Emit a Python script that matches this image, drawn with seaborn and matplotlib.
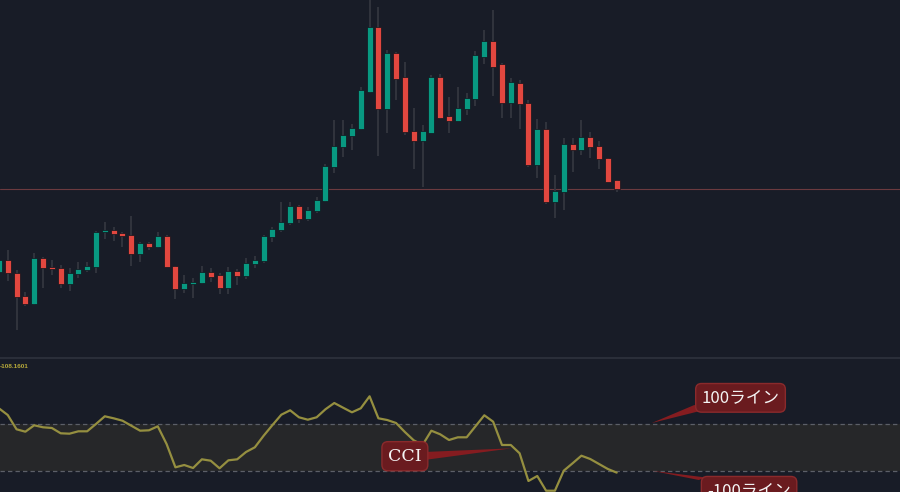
import numpy as np
import pandas as pd
import matplotlib
matplotlib.use("Agg")
import matplotlib.pyplot as plt
import seaborn as sns

# ---------------- data ----------------
opens = [128, 140, 127, 104.3, 96, 141.7, 133.3, 132.3, 115.7, 125.7,
         129.7, 133.3, 167.7, 170, 167.3, 165, 146, 156.7, 153.3, 164,
         134, 111, 116.3, 116.7, 128, 124.7, 111.7, 129.3, 124, 135.7,
         139.3, 162.7, 170, 176.7, 194, 181.3, 189, 199, 232.7, 252.7,
         264.3, 271.3, 308.3, 372.7, 291.3, 346.7, 322.7, 268.7, 259.3, 267.3,
         323.3, 283.7, 279.3, 291, 301, 343.3, 359, 335.7, 297.3, 317.3,
         296.7, 235, 271, 198.3, 208.3, 256, 250, 263.3, 254.3, 242, 219.7]
highs = [143, 150, 130, 108, 146.7, 143.3, 140, 135, 132.3, 138.3,
         137.7, 169, 178.3, 172.7, 168.3, 184, 158.3, 157.7, 168.3, 165,
         134, 124.7, 122.3, 134, 131.7, 126.7, 133.3, 131.3, 141.7, 144,
         165, 173.3, 198.3, 198.3, 195, 192.7, 203.3, 236, 280, 280,
         276, 312.7, 402, 393.3, 350, 347.7, 338.3, 292.3, 275, 324.7,
         326, 302.7, 312.7, 306.7, 349, 370, 390, 336.7, 321.7, 320,
         300, 281, 277.7, 225, 261.7, 261.7, 280, 268.3, 259.3, 242, 220]
lows = [126, 119, 70, 94, 95, 111.7, 125, 111.7, 109, 121.7,
        128.3, 126.7, 160.7, 159, 153.3, 134, 138.3, 150, 152, 133,
        100.7, 106.7, 101.7, 116, 117.7, 105.7, 105.7, 115, 120.7, 131.7,
        137.3, 158.3, 168.3, 175, 176.7, 179.3, 187.3, 198, 226.7, 243.3,
        250, 270, 307.3, 244.3, 266.7, 300, 265, 230.7, 212.7, 266.7,
        280.7, 266.7, 279.3, 285, 294, 336, 304.3, 281.7, 281.7, 271,
        233.3, 222.3, 196, 181.7, 190, 228.3, 245, 241.7, 230.7, 218, 208.3]
closes = [140, 127.3, 103.3, 96, 141.7, 132.3, 131.3, 115.7, 126.7, 131,
          134.3, 168.3, 170, 166, 164, 146, 156.7, 153, 164, 133.3,
          111, 117.3, 118.3, 128, 123.3, 111.7, 129.3, 124.3, 136.7, 140,
          164, 170.7, 178, 194, 181, 189.7, 200, 234.3, 254, 265,
          272.3, 309.7, 372.7, 291.3, 346.7, 321.3, 268.3, 259.3, 268.7, 323.3,
          282.3, 279.3, 292, 301.7, 345, 359, 333.3, 297.3, 318, 295.7,
          235, 271, 198.3, 209.3, 256, 250, 263.3, 253.3, 241, 218.3, 210.7]
cci = [167.2, 138.5, 77.3, 67.0, 94.4, 85.9, 82.9, 60.2, 58.5, 68.7,
       68.7, 100.0, 133.0, 124.4, 114.1, 92.7, 71.3, 73.0, 90.1, 14.3,
       -85.5, -75.6, -88.5, -51.2, -57.2, -89.7, -55.5, -51.2, -19.9, 0.2,
       49.9, 95.7, 139.8, 158.7, 128.7, 118.4, 128.7, 163.0, 189.9, 169.8,
       150.1, 167.2, 218.6, 124.4, 117.1, 104.3, 65.7, 30.2, 10.1, 71.3,
       55.9, 31.5, 43.0, 43.0, 90.1, 137.3, 109.9, 10.1, 10.1, -25.5,
       -144.1, -122.7, -185.7, -185.7, -100.0, -68.3, -35.8, -49.9, -71.3, -92.7,
       -108.16]
cci_levels = [100, -100]
level_labels = ["100ライン", "-100ライン"]
cci_label = "CCI"
cci_value_text = "-108.1601"

# ---------------- style ----------------
BG = "#181c27"
UP = "#089981"
DOWN = "#e2473f"
WICK = "#33363f"
BAND = "#262729"
CCI_COL = "#958f40"
BOX_FC = "#6a1b1f"
BOX_EC = "#8a2a2c"
WEDGE = "#851c20"

sns.set_theme(style="dark", rc={"axes.facecolor": BG, "figure.facecolor": BG})
plt.rcParams["font.family"] = ["DejaVu Sans"]

df = pd.DataFrame({"open": opens, "high": highs, "low": lows, "close": closes, "cci": cci})
df["idx"] = np.arange(len(df))
df["up"] = df["close"] >= df["open"]
df["bottom"] = df[["open", "close"]].min(axis=1)
df["height"] = (df["close"] - df["open"]).abs().clip(lower=1.6)

fig = plt.figure(figsize=(9, 4.92), dpi=100, facecolor=BG)
ax = fig.add_axes([0, 0.2744, 1, 0.7256])
ax2 = fig.add_axes([0, 0, 1, 0.2724], sharex=ax)

# ---- price panel ----
ax.set_facecolor(BG)
ax.vlines(df["idx"], df["low"], df["high"], color=WICK, lw=1.3, zorder=1)
ax.bar(df["idx"], df["height"], bottom=df["bottom"], width=0.68,
       color=np.where(df["up"], UP, DOWN), edgecolor="#11141c", linewidth=0.5, zorder=2)
ax.axhline(closes[-1], color="#6b3a3f", lw=0.8, zorder=0.5)
ax.set_xlim(0.125, 102.1)
ax.set_ylim(43, 400)

# ---- CCI panel ----
ax2.set_facecolor(BG)
ax2.axhspan(cci_levels[1], cci_levels[0], color=BAND, zorder=0, lw=0)
for lv in cci_levels:
    ax2.axhline(lv, color="#5c5f68", lw=0.9, ls=(0, (3.5, 2.5)), zorder=1)
sns.lineplot(x=df["idx"], y=df["cci"], ax=ax2, color=CCI_COL, lw=1.6, zorder=3)
ax2.set_ylim(-191.2, 382.7)
ax2.text(0.0, 0.94, cci_value_text, transform=ax2.transAxes, ha="left", va="center",
         fontsize=4.6, color="#b5a83a", family="Liberation Sans", fontweight="bold")

for a in (ax, ax2):
    a.set_xticks([])
    a.set_yticks([])
    a.set_xlabel("")
    a.set_ylabel("")
    a.grid(False)
    for s in a.spines.values():
        s.set_visible(False)
ax2.spines["top"].set_visible(True)
ax2.spines["top"].set_color("#2a2e39")
ax2.spines["top"].set_linewidth(1.5)


def callout(a, text, center, tip, base, family, size):
    a.fill([base[0][0], base[1][0], tip[0]], [base[0][1], base[1][1], tip[1]],
           color=WEDGE, zorder=5, clip_on=False, lw=0)
    a.text(center[0], center[1], text, ha="center", va="center", fontsize=size,
           color="#f4f4f4", family=family, zorder=6, clip_on=False,
           bbox=dict(boxstyle="round,pad=0.35,rounding_size=0.35", fc=BOX_FC, ec=BOX_EC, lw=1))


callout(ax2, level_labels[0], (84.03, 212.0), (73.96, 104.0),
        [(78.8, 181.4), (79.9, 160.0)], ["Noto Sans CJK JP", "DejaVu Sans"], 12)
callout(ax2, level_labels[1], (85.0, -186.0), (73.96, -100.0),
        [(79.3, -139.8), (80.1, -129.1)], ["Noto Sans CJK JP", "DejaVu Sans"], 12)
callout(ax2, cci_label, (46.0, -38.0), (58.1, -4.1),
        [(48.2, -19.9), (48.2, -54.2)], ["DejaVu Serif"], 12.5)

fig.savefig("out.png", dpi=100, facecolor=BG)
